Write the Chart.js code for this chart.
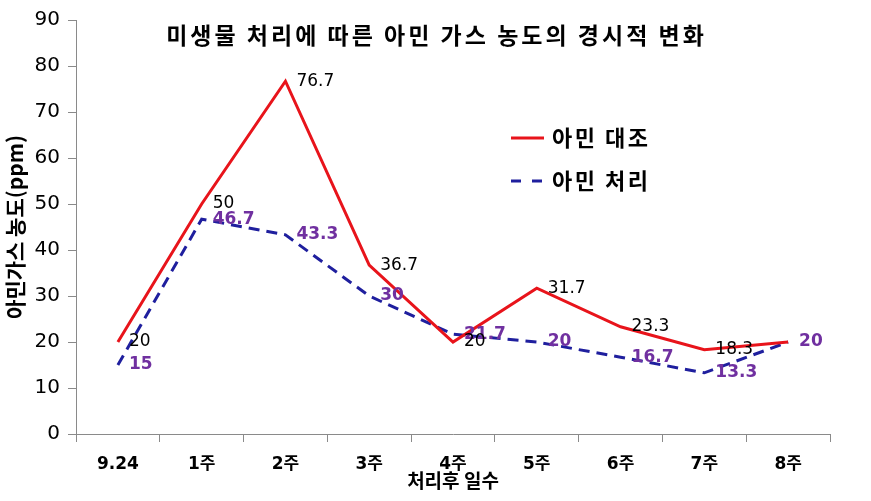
<!DOCTYPE html>
<html><head><meta charset="utf-8">
<script src="https://cdn.jsdelivr.net/npm/chart.js@4"></script>
<style>html,body{margin:0;padding:0;background:#fff}#wrap{width:871px;height:501px}</style>
</head><body><div id="wrap"><canvas id="c" width="871" height="501"></canvas></div>
<script>
const categories = ['9.24','1주','2주','3주','4주','5주','6주','7주','8주'];
const controlValues = [20, 50, 76.7, 36.7, 20, 31.7, 23.3, 18.3, 20];
const treatedValues = [15, 46.7, 43.3, 30, 21.7, 20, 16.7, 13.3, 20];
const controlLabels = ['20','50','76.7','36.7','20','31.7','23.3','18.3', null];
const treatedLabels = ['15','46.7','43.3','30','21.7','20','16.7','13.3','20'];
const seriesNames = ['아민 대조', '아민 처리'];
const chartTitle = '미생물 처리에 따른 아민 가스 농도의 경시적 변화';
const xTitle = '처리후 일수';
const yTitle = '아민가스 농도(ppm)';

const RED = '#E8141B';
const BLUE = '#1F1F9E';
const PURPLE = '#7030A0';
const GREY = '#8A8A8A';
const LATIN = "'DejaVu Sans', 'Noto Sans CJK KR', sans-serif";
const KR = "'Noto Sans CJK KR', 'DejaVu Sans', sans-serif";

const overlayPlugin = {
  id: 'overlay',
  afterDatasetsDraw(chart) {
    const ctx = chart.ctx;
    ctx.save();
    ctx.textAlign = 'left';
    ctx.textBaseline = 'middle';
    const sets = [
      {idx: 1, labels: treatedLabels, color: PURPLE, font: 'bold 17px ' + LATIN},
      {idx: 0, labels: controlLabels, color: '#000', font: '17px ' + LATIN}
    ];
    sets.forEach(s => {
      const meta = chart.getDatasetMeta(s.idx);
      ctx.fillStyle = s.color;
      ctx.font = s.font;
      meta.data.forEach((pt, i) => {
        const t = s.labels[i];
        if (t) ctx.fillText(t, pt.x + 11, pt.y);
      });
    });
    ctx.restore();
  },
  afterDraw(chart) {
    const ctx = chart.ctx;
    ctx.save();
    // title
    ctx.font = 'bold 23px ' + KR;
    ctx.fillStyle = '#000';
    ctx.textAlign = 'center';
    ctx.textBaseline = 'middle';
    try { ctx.letterSpacing = '3px'; } catch (e) {}
    ctx.fillText(chartTitle, chart.width / 2 + 1, 35);
    // legend
    ctx.font = 'bold 22px ' + KR;
    ctx.textAlign = 'left';
    try { ctx.letterSpacing = '2.5px'; } catch (e) {}
    const items = [
      {y: 138, color: RED, dash: []},
      {y: 181, color: BLUE, dash: [10, 11]}
    ];
    items.forEach((it, k) => {
      ctx.strokeStyle = it.color;
      ctx.lineWidth = 3;
      ctx.setLineDash(it.dash);
      ctx.beginPath();
      ctx.moveTo(511, it.y);
      ctx.lineTo(544, it.y);
      ctx.stroke();
      ctx.setLineDash([]);
      ctx.fillStyle = '#000';
      ctx.fillText(seriesNames[k], 552, it.y);
    });
    ctx.restore();
  }
};

new Chart(document.getElementById('c'), {
  type: 'line',
  data: {
    labels: categories,
    datasets: [
      {label: seriesNames[0], data: controlValues, borderColor: RED, borderWidth: 3, pointRadius: 0, tension: 0, fill: false},
      {label: seriesNames[1], data: treatedValues, borderColor: BLUE, borderWidth: 3, borderDash: [11, 7], pointRadius: 0, tension: 0, fill: false}
    ]
  },
  options: {
    responsive: false,
    animation: false,
    devicePixelRatio: 1,
    layout: {padding: {top: 15, right: 41, bottom: 0, left: 0}},
    plugins: {legend: {display: false}, title: {display: false}, tooltip: {enabled: false}},
    scales: {
      x: {
        offset: true,
        grid: {display: true, offset: true, drawOnChartArea: false, drawTicks: true, tickLength: 8, color: GREY},
        border: {display: true, color: GREY, width: 1},
        ticks: {font: {family: LATIN, size: 17, weight: 'bold'}, color: '#000', padding: 12, maxRotation: 0, autoSkip: false},
        title: {display: true, text: xTitle, color: '#000', font: {family: KR, size: 19, weight: 'bold', lineHeight: 1.2}, padding: {top: 0, bottom: 9}},
        afterFit(s) { s.height = 67; }
      },
      y: {
        min: 0, max: 90,
        ticks: {stepSize: 10, font: {family: LATIN, size: 20}, color: '#000', padding: 8},
        grid: {display: true, drawOnChartArea: false, drawTicks: true, tickLength: 8, color: GREY},
        border: {display: true, color: GREY, width: 1},
        title: {display: true, text: yTitle, color: '#000', font: {family: KR, size: 21, weight: 'bold', lineHeight: 1.2}, padding: {top: 2, bottom: 0}},
        afterFit(s) { s.width = 76; }
      }
    }
  },
  plugins: [overlayPlugin]
});
</script>
</body></html>
